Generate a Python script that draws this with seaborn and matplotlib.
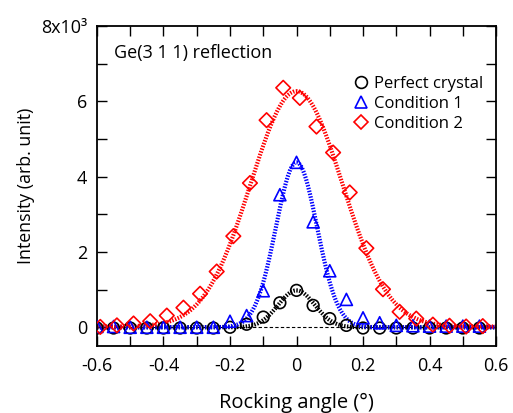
import numpy as np
import pandas as pd
import matplotlib
matplotlib.use("Agg")
import matplotlib.pyplot as plt
from matplotlib.lines import Line2D
import seaborn as sns

# measured points (intensity in units of 10^3)
x_pc = [-0.60, -0.55, -0.50, -0.45, -0.40, -0.35, -0.30, -0.25, -0.20, -0.15, -0.10, -0.05,
        0.00, 0.05, 0.10, 0.15, 0.20, 0.25, 0.30, 0.35, 0.40, 0.45, 0.50, 0.55]
y_pc = [-0.02, -0.02, -0.02, -0.02, -0.02, -0.02, -0.02, -0.02, 0.00, 0.08, 0.27, 0.65,
        0.98, 0.58, 0.23, 0.05, -0.02, -0.02, -0.02, -0.02, -0.02, -0.02, -0.02, -0.02]

x_c1 = x_pc
y_c1 = [0.02, 0.02, 0.00, 0.00, 0.00, 0.00, 0.00, 0.00, 0.16, 0.31, 0.97, 3.52,
        4.38, 2.80, 1.50, 0.74, 0.25, 0.12, 0.05, 0.04, 0.03, 0.03, 0.03, 0.03]

x_c2 = [-0.59, -0.54, -0.49, -0.44, -0.39, -0.34, -0.29, -0.24, -0.19, -0.14, -0.09, -0.04,
        0.01, 0.06, 0.11, 0.16, 0.21, 0.26, 0.31, 0.36, 0.41, 0.46, 0.51, 0.56]
y_c2 = [0.01, 0.05, 0.10, 0.16, 0.31, 0.52, 0.89, 1.48, 2.42, 3.83, 5.50, 6.36,
        6.09, 5.33, 4.64, 3.58, 2.10, 1.01, 0.41, 0.23, 0.07, 0.04, 0.02, 0.03]

# gaussian fit parameters: amplitude, centre, sigma, offset
fit_pc = (0.98, 0.0, 0.055, 0.0)
fit_c1 = (4.38, 0.0, 0.062, 0.0)
fit_c2 = (6.25, 0.0, 0.138, 0.02)

labels = ["Perfect crystal", "Condition 1", "Condition 2"]
colors = ["black", "blue", "red"]
markers = ["o", "^", "D"]

sns.set_style("ticks")
plt.rcParams["font.family"] = ["Open Sans", "DejaVu Sans"]
plt.rcParams["text.color"] = "black"
plt.rcParams["axes.labelcolor"] = "black"
plt.rcParams["xtick.color"] = "black"
plt.rcParams["ytick.color"] = "black"
plt.rcParams["axes.edgecolor"] = "black"

fig = plt.figure(figsize=(5.13, 4.13), dpi=100)
ax = fig.add_axes([0.189, 0.162, 0.778, 0.775])

ax.axhline(0, color="black", lw=0.8, ls=(0, (3, 2)), zorder=1)

xf = np.linspace(-0.6, 0.6, 400)
for (a, c, s, o), col in zip([fit_pc, fit_c1, fit_c2], colors):
    fit = pd.DataFrame({"x": xf, "y": a * np.exp(-(xf - c) ** 2 / (2 * s ** 2)) + o})
    sns.lineplot(data=fit, x="x", y="y", color=col, lw=3, ls=(0, (0.35, 0.35)), ax=ax, zorder=2)

sizes = [70, 75, 55]
for xs, ys, col, m, sz in zip([x_pc, x_c1, x_c2], [y_pc, y_c1, y_c2], colors, markers, sizes):
    df = pd.DataFrame({"x": xs, "y": ys})
    sns.scatterplot(data=df, x="x", y="y", marker=m, s=sz, ax=ax, zorder=3)
    pc = ax.collections[-1]
    pc.set_facecolor("none")
    pc.set_edgecolor(col)
    pc.set_linewidth(1.2)

ax.set_xlim(-0.6, 0.6)
ax.set_ylim(-0.5, 8)
ax.set_xticks(np.arange(-0.6, 0.61, 0.2))
ax.set_xticklabels(["-0.6", "-0.4", "-0.2", "0", "0.2", "0.4", "0.6"])
ax.set_xticks(np.arange(-0.5, 0.6, 0.2), minor=True)
ax.set_yticks([0, 2, 4, 6, 8])
ax.set_yticklabels(["0", "2", "4", "6", "8x10³"])
ax.set_yticks([1, 3, 5, 7], minor=True)
ax.tick_params(which="both", direction="in", top=True, right=True, length=7, width=1,
               labelsize=13)
ax.tick_params(axis="x", pad=8)
ax.tick_params(axis="y", pad=7)
for sp in ax.spines.values():
    sp.set_linewidth(1.3)
    sp.set_visible(True)

ax.set_xlabel("Rocking angle (°)", fontsize=14.5, labelpad=13)
ax.set_ylabel("Intensity (arb. unit)", fontsize=12.8, labelpad=4)

ax.text(0.042, 0.915, "Ge(3 1 1) reflection", transform=ax.transAxes, fontsize=13,
        ha="left", va="center")

handles = [Line2D([], [], ls="none", marker=m, mfc="none", mec=c, mew=1.2, ms=ms)
           for m, c, ms in zip(markers, colors, [8.5, 9, 7.5])]
ax.legend(handles, labels, loc="upper left", bbox_to_anchor=(0.62, 0.865), frameon=False,
          fontsize=12, handletextpad=0.2, labelspacing=0.25, borderaxespad=0, handlelength=1.2)

fig.savefig("out.png", dpi=100)
